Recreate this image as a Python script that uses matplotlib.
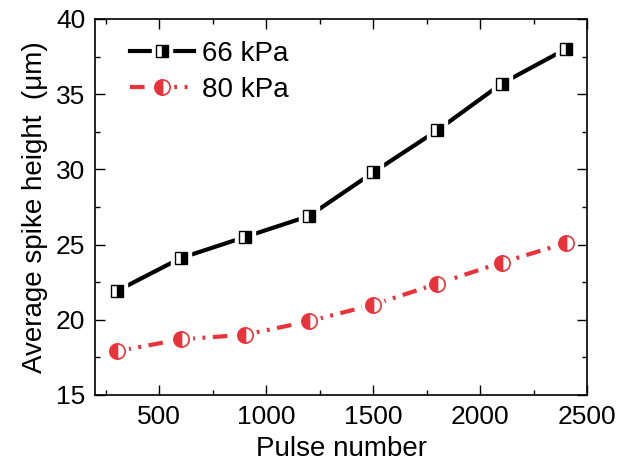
import matplotlib
matplotlib.use("Agg")
import matplotlib.pyplot as plt
from matplotlib.ticker import MultipleLocator

plt.rcParams['font.family'] = ['Liberation Sans', 'DejaVu Sans']

pulses = [300, 600, 900, 1200, 1500, 1800, 2100, 2400]
h66 = [21.9, 24.1, 25.5, 26.9, 29.8, 32.6, 35.7, 38.0]
h80 = [17.9, 18.7, 19.0, 19.9, 21.0, 22.4, 23.8, 25.1]
red = '#e8333b'
dashdot = (0, (3.5, 1.8, 0.7, 1.8))

fig = plt.figure(figsize=(6.3, 4.63), dpi=100)
ax = fig.add_axes([0.151, 0.147, 0.781, 0.812])

# white halo so lines stop short of the markers
halo66, = ax.plot(pulses, h66, ls='none', marker='s', ms=15, mfc='white', mec='white', zorder=3)
halo80, = ax.plot(pulses, h80, ls='none', marker='o', ms=16, mfc='white', mec='white', zorder=3)

line66, = ax.plot(pulses, h66, color='black', lw=3, zorder=2)
line80, = ax.plot(pulses, h80, color=red, lw=3, ls=dashdot, zorder=2)

mk66, = ax.plot(pulses, h66, ls='none', marker='s', ms=9, fillstyle='right',
                mfc='black', mfcalt='white', mec='black', mew=1, zorder=4)
mk80, = ax.plot(pulses, h80, ls='none', marker='o', ms=11, fillstyle='left',
                mfc=red, mfcalt='white', mec=red, mew=1.2, zorder=4)

ax.legend([(line66, halo66, mk66), (line80, halo80, mk80)], ['66 kPa', '80 kPa'],
          loc='upper left', frameon=False, fontsize=20, handlelength=2.3,
          handletextpad=0.3, labelspacing=0.35, borderaxespad=0.4,
          bbox_to_anchor=(0.025, 1.0))

ax.set_xlim(200, 2500)
ax.set_ylim(15, 40)
ax.xaxis.set_major_locator(MultipleLocator(500))
ax.xaxis.set_minor_locator(MultipleLocator(250))
ax.yaxis.set_major_locator(MultipleLocator(5))
ax.yaxis.set_minor_locator(MultipleLocator(2.5))
ax.tick_params(which='both', direction='in', top=True, right=True, labelsize=19,
               width=1)
ax.tick_params(which='major', length=7, pad=7)
ax.tick_params(which='minor', length=3.5)
for s in ax.spines.values():
    s.set_linewidth(1.2)

ax.set_xlabel('Pulse number', fontsize=20, labelpad=5)
ax.set_ylabel('Average spike height  (\u03bcm)', fontsize=20, labelpad=6)

fig.savefig('out.png', dpi=100)
